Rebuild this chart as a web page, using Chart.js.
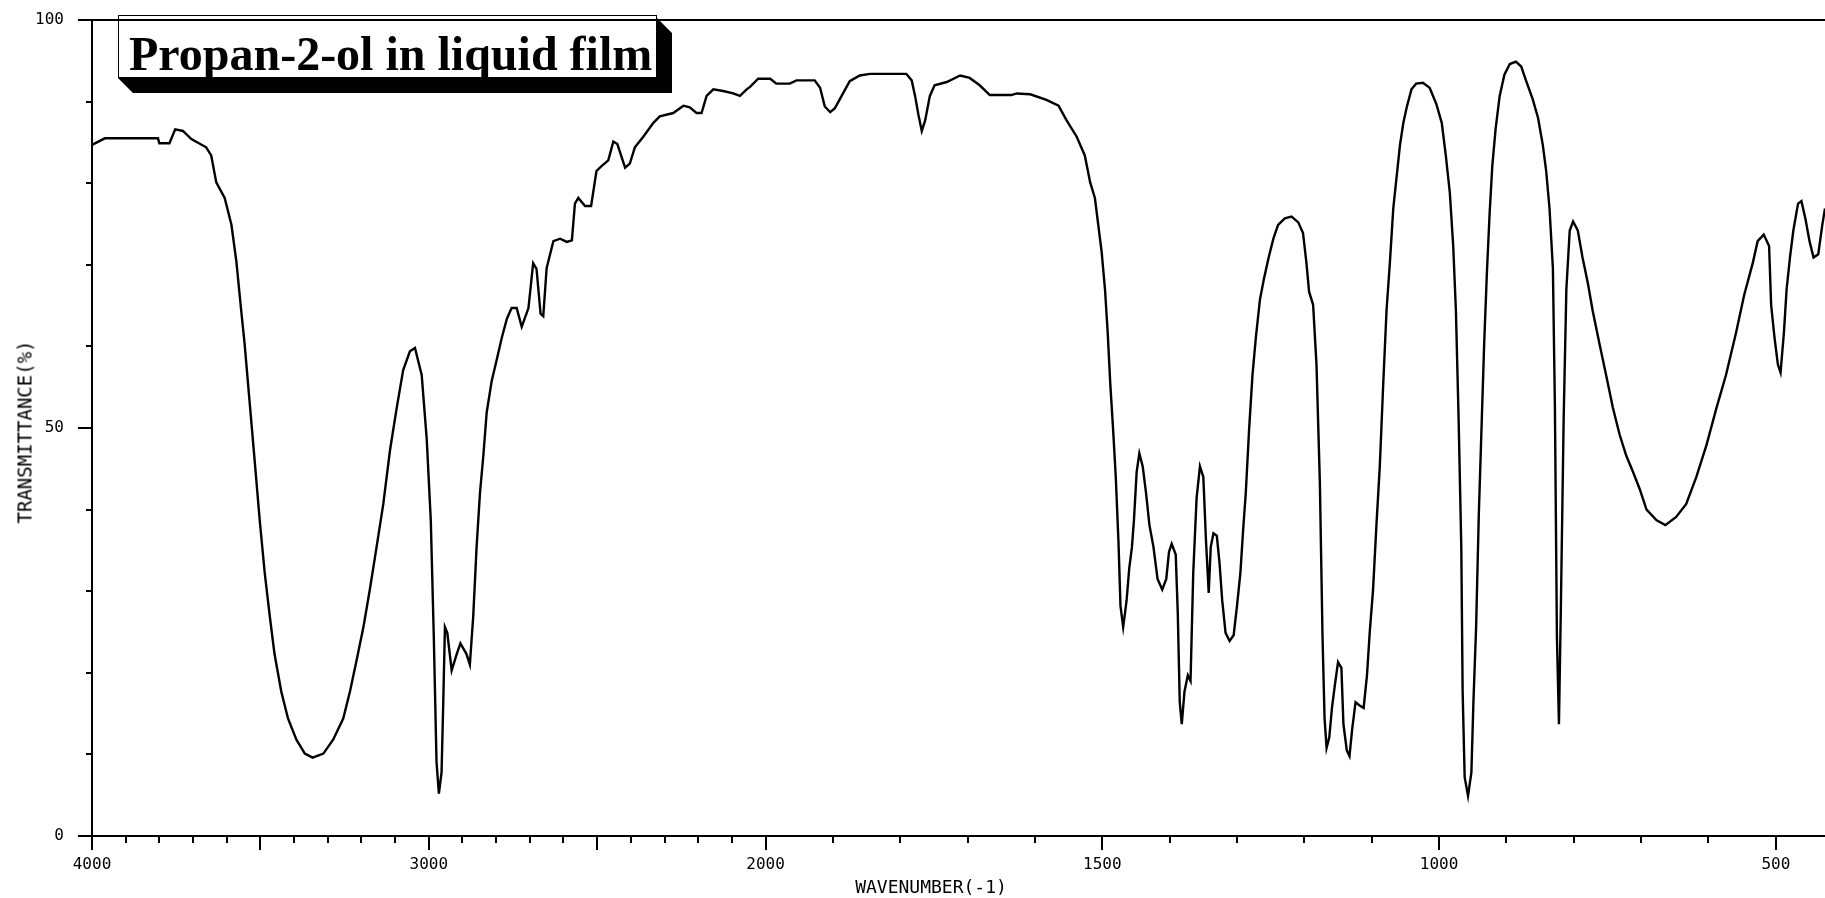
<!DOCTYPE html>
<html>
<head>
<meta charset="utf-8">
<title>Propan-2-ol in liquid film</title>
<script src="https://cdn.jsdelivr.net/npm/chart.js@4.4.1/dist/chart.umd.min.js"></script>
<style>
  html, body { margin: 0; padding: 0; background: #fff; }
  #wrap { position: relative; width: 1825px; height: 898px; }
  #spectrum { display: block; }
  .axis-title {
    position: absolute;
    font-family: "DejaVu Sans Mono", monospace;
    color: #000;
    white-space: nowrap;
    line-height: 1;
  }
  #xTitle { left: 931px; top: 887px; font-size: 18px; transform: translate(-50%, -50%); }
  #yTitle { left: 25px; top: 432px; font-size: 19px; transform: translate(-50%, -50%) rotate(-90deg); }
</style>
</head>
<body>
<div id="wrap">
  <canvas id="spectrum" width="1825" height="898"></canvas>
  <div class="axis-title" id="yTitle">TRANSMITTANCE(%)</div>
  <div class="axis-title" id="xTitle">WAVENUMBER(-1)</div>
</div>
<script>
// IR spectrum, propan-2-ol (liquid film)
const spectrumTitle = "Propan-2-ol in liquid film";

// wavenumber (cm-1), high to low
const wavenumbers = [
  4000, 3962, 3913, 3804, 3800, 3770, 3753, 3730, 3705, 3661, 3646, 3631, 3606, 3586,
  3571, 3557, 3547, 3532, 3517, 3502, 3487, 3472, 3458, 3438, 3418, 3393, 3368, 3345,
  3313, 3284, 3254, 3234, 3214, 3194, 3175, 3155, 3135, 3115, 3095, 3076, 3056, 3041,
  3021, 3006, 2994, 2985, 2977, 2970, 2962, 2957, 2952, 2945, 2932, 2917, 2906, 2888, 2878,
  2868, 2858, 2848, 2838, 2828, 2813, 2798, 2783, 2768, 2754, 2739, 2724, 2704, 2690, 2680,
  2668, 2660, 2650, 2630, 2610, 2590, 2575, 2566, 2556, 2536, 2518, 2502, 2487, 2467, 2452,
  2440, 2417, 2403, 2388, 2363, 2333, 2314, 2274, 2244, 2225, 2205, 2190, 2175, 2155, 2126,
  2096, 2076, 2056, 2046, 2022,
  1993, 1984, 1964, 1954, 1927, 1919, 1912, 1904, 1897, 1887, 1875, 1860, 1845, 1791, 1783,
  1778, 1773, 1768, 1763, 1756, 1749, 1731, 1711, 1697, 1682,
  1667, 1635, 1627, 1607, 1583, 1565, 1553, 1538, 1526, 1518, 1511, 1506, 1501, 1496, 1492,
  1488, 1484, 1480, 1476, 1473, 1469,
  1464, 1460, 1456, 1453, 1449, 1445, 1440, 1435, 1430, 1424, 1418, 1411, 1405, 1401, 1397,
  1391, 1388, 1385, 1382, 1378, 1373, 1369,
  1365, 1360, 1355, 1350, 1346, 1342, 1339, 1335, 1330, 1326, 1322, 1317, 1311, 1305, 1300,
  1295, 1291, 1287, 1282, 1277, 1272, 1266, 1260, 1253, 1246, 1239, 1229, 1219, 1209, 1202,
  1197, 1193, 1187, 1182, 1177,
  1173, 1170, 1167, 1163, 1159, 1155, 1150, 1145, 1142, 1137, 1133, 1129, 1124, 1118, 1112,
  1107, 1103, 1098, 1093, 1088, 1083, 1078, 1073, 1068, 1063, 1058, 1053, 1048, 1041,
  1034, 1024, 1014, 1004, 996, 990, 984, 979, 975, 971, 967, 965, 962, 957, 952, 949,
  945, 941, 937, 933, 929, 925, 921, 916,
  910, 903, 895, 886, 878, 871, 861, 853, 846, 841, 836, 831, 828, 825, 822, 819, 815, 811,
  806, 801,
  794, 787, 779, 772, 762, 752, 742, 732, 722, 712, 702, 692, 677, 664, 648, 633, 618, 603,
  588, 574, 559, 547, 534,
  527, 518, 510, 507, 502, 497, 493, 488, 484, 479, 474, 467, 462, 456, 450, 444, 437, 431, 427
];

// transmittance (%)
const transmittance = [
  84.7, 85.5, 85.5, 85.5, 84.9, 84.9, 86.6, 86.4, 85.4, 84.4, 83.4, 80.1, 78.2, 74.9,
  70.3, 64.4, 60.4, 53.2, 46.0, 38.7, 32.2, 26.9, 22.3, 17.7, 14.4, 11.8, 10.1, 9.6,
  10.1, 11.8, 14.4, 17.7, 21.6, 25.6, 30.2, 35.4, 40.7, 47.3, 52.5, 57.1, 59.4, 59.8,
  56.5, 48.6, 38.7, 24.3, 9.1, 5.2, 7.8, 16.4, 25.6, 24.9, 20.3, 22.3, 23.6, 22.3, 21.0,
  26.9, 35.4, 42.0, 46.6, 51.9, 55.8, 58.4, 61.1, 63.4, 64.7, 64.7, 62.4, 64.7, 70.2, 69.5,
  64.0, 63.7, 69.6, 72.9, 73.2, 72.8, 73.0, 77.5, 78.2, 77.2, 77.2, 81.5, 82.1, 82.8, 85.1,
  84.8, 81.9, 82.4, 84.4, 85.7, 87.4, 88.2, 88.6, 89.5, 89.3, 88.6, 88.6, 90.7, 91.5, 91.3,
  91.0, 90.7, 91.5, 91.8, 92.8,
  92.8, 92.2, 92.2, 92.6, 92.6, 91.7, 89.4, 88.7, 89.2, 90.7, 92.5, 93.2, 93.4, 93.4, 92.6,
  90.7, 88.4, 86.4, 87.7, 90.7, 92.0, 92.4, 93.2, 92.9, 92.0,
  90.8, 90.8, 91.0, 90.9, 90.2, 89.5, 87.7, 85.7, 83.4, 80.1, 78.2, 74.9, 71.6, 67.0, 61.7,
  55.2, 49.9, 44.0, 36.1, 28.2, 25.6,
  28.8, 32.8, 35.4, 38.7, 44.6, 46.9, 45.3, 42.0, 38.1, 35.4, 31.5, 30.2, 31.5, 34.8, 35.8,
  34.5, 27.5, 16.4, 13.7, 17.7, 19.7, 19.0,
  32.2, 41.4, 45.3, 44.0, 36.1, 29.8, 35.4, 37.1, 36.8, 33.5, 28.9, 24.9, 23.9, 24.6, 28.2,
  32.2, 37.4, 42.0, 49.9, 56.5, 61.1, 65.7, 68.3, 70.9, 73.2, 74.9, 75.7, 75.9, 75.2, 73.9,
  70.3, 66.7, 65.1, 57.8, 43.4,
  24.3, 14.4, 10.8, 12.1, 15.7, 18.3, 21.3, 20.6, 13.7, 10.5, 9.8, 13.1, 16.4, 16.0, 15.7,
  19.7, 24.9, 30.2, 38.1, 45.3, 55.2, 64.4, 70.3, 76.9, 80.8, 84.7, 87.4, 89.3, 91.5,
  92.2, 92.3, 91.7, 89.7, 87.4, 83.4, 78.8, 72.3, 64.4, 51.2, 35.4, 17.7, 7.2, 4.9, 7.8, 16.4,
  25.6, 39.4, 49.9, 60.4, 69.0, 76.2, 82.1, 86.7,
  90.7, 93.3, 94.6, 94.9, 94.3, 92.6, 90.3, 88.0, 84.7, 81.5, 76.9, 69.6, 52.5, 24.3, 13.7, 28.9, 51.2, 67.0,
  74.2, 75.3,
  74.2, 70.9, 67.7, 64.4, 60.4, 56.5, 52.5, 49.2, 46.6, 44.6, 42.5, 40.0, 38.7, 38.1, 39.1, 40.7, 44.0, 47.9,
  52.5, 56.5, 61.7, 66.3, 70.3,
  72.9, 73.7, 72.3, 65.1, 61.1, 57.8, 56.8, 61.7, 67.0, 70.9, 74.2, 77.5, 77.8, 75.6, 72.9, 70.9, 71.3, 74.9, 76.9
];

// axis labels
const xLabelValues = [4000, 3000, 2000, 1500, 1000, 500];
const xLongTicks = [4000, 3500, 3000, 2500, 2000, 1500, 1000, 500];
const yLabelValues = [0, 50, 100];
const wnStart = 4000;
const wnEnd = 427;

// the wavenumber axis changes scale at 2000: 1000 cm-1 per division above, 500 below
function toAxis(wn) {
  return wn >= 2000 ? (wnStart - wn) / 1000 : 2 + (2000 - wn) / 500;
}
function fromAxis(u) {
  return u <= 2 ? wnStart - 1000 * u : 2000 - 500 * (u - 2);
}

// a tick mark every 100 cm-1
const xTickMarks = [];
for (let wn = 4000; wn >= 500; wn -= 100) xTickMarks.push(wn);

const points = wavenumbers.map((wn, i) => ({ x: toAxis(wn), y: transmittance[i] }));

const tickFont = { family: '"DejaVu Sans Mono", monospace', size: 16 };

// title box with solid block shadow, then frame line and tick marks
const spectrumDecor = {
  id: "spectrumDecor",
  beforeDraw(chart) {
    const ctx = chart.ctx;
    const L = 118, T = 15, R = 657, B = 78, D = 15;
    ctx.save();
    ctx.fillStyle = "#fff";
    ctx.fillRect(0, 0, chart.width, chart.height);
    ctx.fillStyle = "#000";
    ctx.beginPath();
    ctx.moveTo(R, T + 3);
    ctx.lineTo(R + D, T + 3 + D);
    ctx.lineTo(R + D, B + D);
    ctx.lineTo(L + D, B + D);
    ctx.lineTo(L, B);
    ctx.lineTo(R, B);
    ctx.closePath();
    ctx.fill();
    ctx.fillStyle = "#fff";
    ctx.fillRect(L, T, R - L, B - T);
    ctx.strokeStyle = "#000";
    ctx.lineWidth = 1;
    ctx.strokeRect(L + 0.5, T + 0.5, R - L - 1, B - T - 1);
    ctx.fillStyle = "#000";
    ctx.font = "bold 48px 'Liberation Serif', 'Times New Roman', serif";
    ctx.textBaseline = "alphabetic";
    ctx.fillText(spectrumTitle, 129, 70);
    ctx.restore();
  },
  afterDatasetsDraw(chart) {
    const ctx = chart.ctx;
    const area = chart.chartArea;
    const xs = chart.scales.x;
    const ys = chart.scales.y;
    ctx.save();
    ctx.strokeStyle = "#000";
    ctx.lineWidth = 2;
    ctx.beginPath();
    ctx.moveTo(area.left, area.top);
    ctx.lineTo(area.right, area.top);
    xTickMarks.forEach((wn) => {
      const px = Math.round(xs.getPixelForValue(toAxis(wn)));
      const len = xLongTicks.includes(wn) ? 14 : 7;
      ctx.moveTo(px, area.bottom);
      ctx.lineTo(px, area.bottom + len);
    });
    ys.ticks.forEach((t) => {
      const py = Math.round(ys.getPixelForValue(t.value));
      const len = yLabelValues.includes(t.value) ? 14 : 6;
      ctx.moveTo(area.left - len, py);
      ctx.lineTo(area.left, py);
    });
    ctx.stroke();
    ctx.restore();
  }
};

new Chart(document.getElementById("spectrum"), {
  type: "line",
  data: {
    datasets: [
      {
        label: spectrumTitle,
        data: points,
        borderColor: "#000",
        borderWidth: 2.4,
        pointRadius: 0,
        tension: 0,
        fill: false,
      },
    ],
  },
  options: {
    responsive: false,
    animation: false,
    devicePixelRatio: 1,
    layout: { padding: { top: 20, right: 0, bottom: 0, left: 0 } },
    plugins: {
      legend: { display: false },
      tooltip: { enabled: false },
    },
    scales: {
      x: {
        type: "linear",
        min: 0,
        max: toAxis(wnEnd),
        afterBuildTicks: (scale) => {
          scale.ticks = xTickMarks.map((wn) => ({ value: toAxis(wn) }));
        },
        afterFit: (scale) => {
          scale.height = 62;
          scale.paddingLeft = 0;
          scale.paddingRight = 0;
        },
        ticks: {
          autoSkip: false,
          maxRotation: 0,
          padding: 19,
          color: "#000",
          font: tickFont,
          callback: (v) => {
            const wn = Math.round(fromAxis(v));
            return xLabelValues.includes(wn) ? String(wn) : "";
          },
        },
        grid: { display: false, drawTicks: false },
        border: { display: true, color: "#000", width: 2 },
      },
      y: {
        min: 0,
        max: 100,
        afterFit: (scale) => {
          scale.width = 92;
          scale.paddingTop = 0;
          scale.paddingBottom = 0;
        },
        ticks: {
          stepSize: 10,
          padding: 28,
          color: "#000",
          font: tickFont,
          callback: (v) => (yLabelValues.includes(v) ? String(v) : ""),
        },
        grid: { display: false, drawTicks: false },
        border: { display: true, color: "#000", width: 2 },
      },
    },
  },
  plugins: [spectrumDecor],
});
</script>
</body>
</html>
